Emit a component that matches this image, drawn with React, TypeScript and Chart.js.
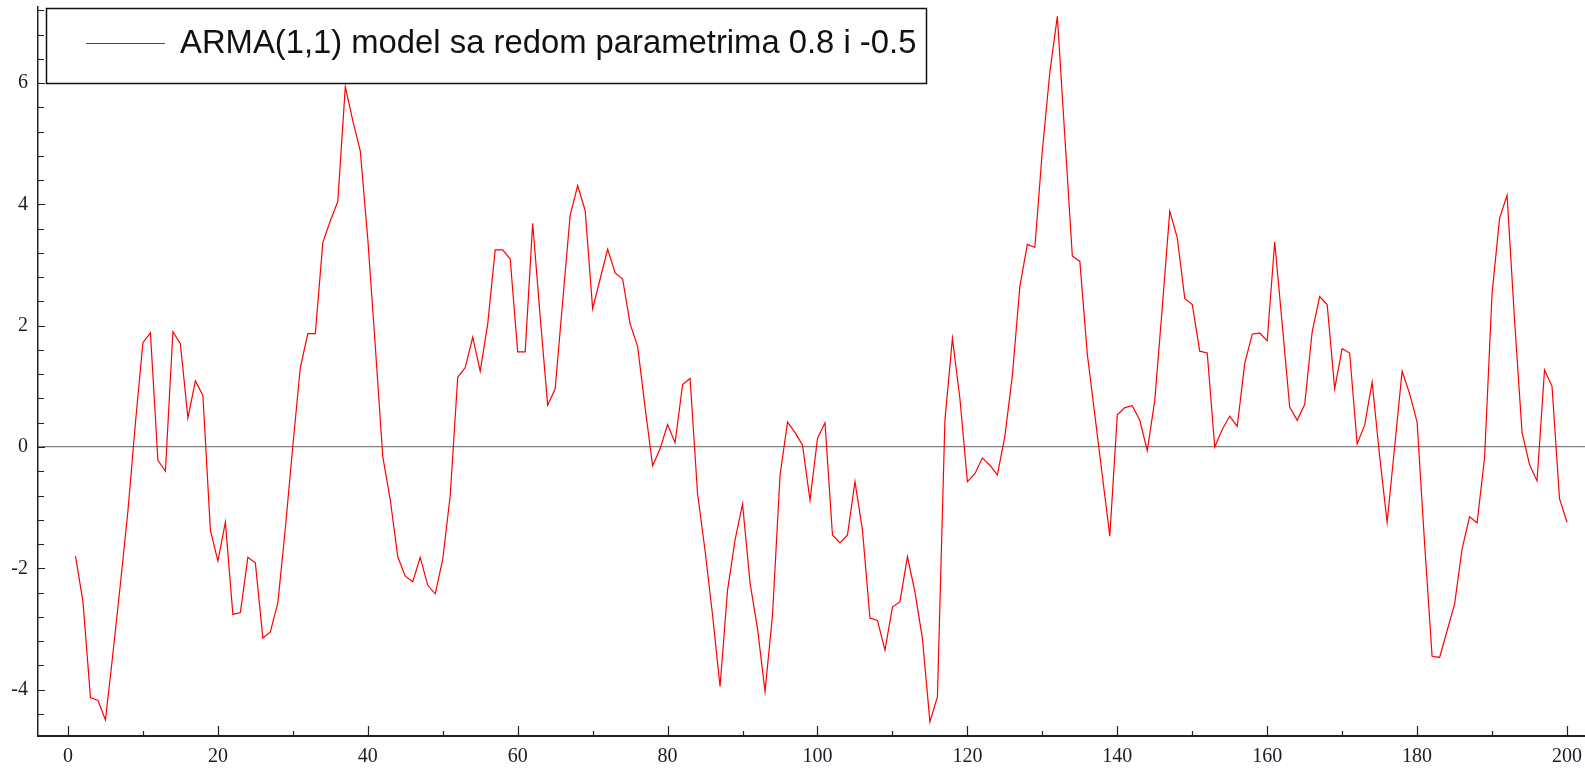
import React, { useEffect, useRef } from 'react';
import { Chart, registerables } from 'chart.js';

Chart.register(...registerables);

const seriesLabel = 'ARMA(1,1) model sa redom parametrima 0.8 i -0.5';

const timeIndex: number[] = Array.from({ length: 200 }, (_, i) => i + 1);

const armaValues: number[] = [
  -1.80, -2.55, -4.13, -4.18, -4.50, -3.40, -2.25, -1.05, 0.40, 1.72,
  1.88, -0.22, -0.40, 1.90, 1.70, 0.48, 1.09, 0.85, -1.37, -1.88,
  -1.24, -2.76, -2.73, -1.82, -1.91, -3.15, -3.05, -2.57, -1.34, 0.02,
  1.31, 1.87, 1.87, 3.37, 3.73, 4.05, 5.94, 5.38, 4.88, 3.43,
  1.67, -0.16, -0.87, -1.81, -2.13, -2.22, -1.82, -2.28, -2.42, -1.85,
  -0.80, 1.15, 1.31, 1.81, 1.25, 2.03, 3.25, 3.25, 3.10, 1.57,
  1.57, 3.69, 2.15, 0.69, 0.96, 2.40, 3.82, 4.31, 3.90, 2.28,
  2.77, 3.26, 2.87, 2.77, 2.03, 1.66, 0.65, -0.31, -0.03, 0.37,
  0.07, 1.03, 1.13, -0.77, -1.71, -2.77, -3.95, -2.36, -1.53, -0.94,
  -2.24, -3.00, -4.03, -2.77, -0.47, 0.41, 0.24, 0.03, -0.88, 0.14,
  0.40, -1.45, -1.58, -1.45, -0.57, -1.37, -2.82, -2.86, -3.35, -2.64,
  -2.55, -1.81, -2.39, -3.16, -4.53, -4.12, 0.44, 1.79, 0.80, -0.57,
  -0.44, -0.18, -0.30, -0.46, 0.18, 1.18, 2.65, 3.34, 3.29, 4.89,
  6.18, 7.10, 5.12, 3.15, 3.06, 1.53, 0.53, -0.47, -1.47, 0.53,
  0.65, 0.68, 0.44, -0.06, 0.77, 2.30, 3.89, 3.45, 2.45, 2.35,
  1.58, 1.55, 0.00, 0.29, 0.51, 0.34, 1.38, 1.86, 1.88, 1.75,
  3.38, 2.03, 0.66, 0.44, 0.70, 1.90, 2.48, 2.35, 0.96, 1.62,
  1.55, 0.05, 0.36, 1.07, -0.15, -1.24, 0.00, 1.25, 0.88, 0.41,
  -1.59, -3.45, -3.47, -3.03, -2.59, -1.68, -1.15, -1.25, -0.18, 2.53,
  3.77, 4.15, 2.10, 0.24, -0.29, -0.56, 1.27, 1.00, -0.85, -1.24,
];

const xTickLabels: number[] = [0, 20, 40, 60, 80, 100, 120, 140, 160, 180, 200];
const yTickLabels: number[] = [-4, -2, 0, 2, 4, 6];

const X_MIN = -4;
const X_MAX = 202.4;
const Y_MIN = -4.765;
const Y_MAX = 7.255;

const tickFont = { family: '"Liberation Serif", "DejaVu Serif", serif', size: 20 };

const innerTicksPlugin = {
  id: 'innerTicks',
  afterDatasetsDraw(chart: any) {
    const { ctx, chartArea, scales } = chart;
    const xs = scales.x;
    const ys = scales.y;
    ctx.save();
    ctx.strokeStyle = '#222222';
    ctx.lineWidth = 1.2;
    ctx.beginPath();
    for (let k = -11; k <= 18; k++) {
      const v = k * 0.4;
      const py = Math.round(ys.getPixelForValue(v)) + 0.5;
      if (py < chartArea.top || py > chartArea.bottom) continue;
      const len = k % 5 === 0 ? 7 : 6;
      ctx.moveTo(chartArea.left, py);
      ctx.lineTo(chartArea.left + len, py);
    }
    for (let v = 0; v <= 200; v += 10) {
      const px = Math.round(xs.getPixelForValue(v)) + 0.5;
      const len = v % 20 === 0 ? 10 : 5;
      ctx.moveTo(px, chartArea.bottom);
      ctx.lineTo(px, chartArea.bottom - len);
    }
    ctx.stroke();
    ctx.restore();
  },
};

const boxLegendPlugin = {
  id: 'boxLegend',
  afterDraw(chart: any) {
    const { ctx } = chart;
    const ds = chart.data.datasets[0];
    const left = 46;
    const top = 8;
    const right = 926;
    const bottom = 83;
    ctx.save();
    ctx.fillStyle = '#ffffff';
    ctx.fillRect(left, top, right - left, bottom - top);
    ctx.strokeStyle = '#111111';
    ctx.lineWidth = 1.5;
    ctx.strokeRect(left + 0.5, top + 0.5, right - left, bottom - top);
    const midY = 43;
    ctx.strokeStyle = ds.borderColor;
    ctx.lineWidth = 1.2;
    ctx.beginPath();
    ctx.moveTo(86, midY + 0.5);
    ctx.lineTo(165, midY + 0.5);
    ctx.stroke();
    ctx.fillStyle = '#111111';
    ctx.font = '32.8px "Liberation Sans", Arial, sans-serif';
    ctx.textBaseline = 'middle';
    ctx.textAlign = 'left';
    ctx.fillText(ds.label, 180, midY + 1);
    ctx.restore();
  },
};

export default function App() {
  const canvasRef = useRef<HTMLCanvasElement | null>(null);

  useEffect(() => {
    const canvas = canvasRef.current;
    if (!canvas) return;
    const chart = new Chart(canvas, {
      type: 'line',
      data: {
        datasets: [
          {
            label: seriesLabel,
            data: armaValues.map((y, i) => ({ x: timeIndex[i], y })),
            borderColor: '#ff0000',
            borderWidth: 1.2,
            pointRadius: 0,
            tension: 0,
            fill: false,
          },
        ],
      },
      options: {
        responsive: false,
        animation: false,
        devicePixelRatio: 1,
        layout: { padding: { top: 7, left: 0, right: 0, bottom: 0 } },
        plugins: {
          legend: { display: false },
          tooltip: { enabled: false },
        },
        scales: {
          x: {
            type: 'linear',
            min: X_MIN,
            max: X_MAX,
            afterBuildTicks: (s: any) => {
              s.ticks = xTickLabels.map((v) => ({ value: v }));
            },
            afterFit: (s: any) => {
              s.height = 32;
              s.paddingLeft = 0;
              s.paddingRight = 0;
            },
            grid: { display: false, drawTicks: false },
            border: { display: true, color: '#222222', width: 2 },
            ticks: {
              font: tickFont,
              color: '#1c1c28',
              padding: 9,
              maxRotation: 0,
              autoSkip: false,
              callback: (v: any) => String(v),
            },
          },
          y: {
            type: 'linear',
            min: Y_MIN,
            max: Y_MAX,
            afterBuildTicks: (s: any) => {
              s.ticks = yTickLabels.map((v) => ({ value: v }));
            },
            afterFit: (s: any) => {
              s.width = 38;
              s.paddingTop = 0;
              s.paddingBottom = 0;
            },
            grid: {
              drawTicks: false,
              drawOnChartArea: true,
              color: (c: any) => (c.tick && c.tick.value === 0 ? '#808080' : 'rgba(0,0,0,0)'),
              lineWidth: 1.2,
            },
            border: { display: true, color: '#222222', width: 1.5 },
            ticks: {
              font: tickFont,
              color: '#1c1c28',
              padding: 10,
              autoSkip: false,
              callback: (v: any) => String(v),
            },
          },
        },
      } as any,
      plugins: [innerTicksPlugin, boxLegendPlugin],
    });
    return () => chart.destroy();
  }, []);

  return (
    <div style={{ position: 'fixed', left: 0, top: 0, width: 1585, height: 768, background: '#ffffff' }}>
      <canvas ref={canvasRef} width={1585} height={768} style={{ display: 'block' }} />
    </div>
  );
}
